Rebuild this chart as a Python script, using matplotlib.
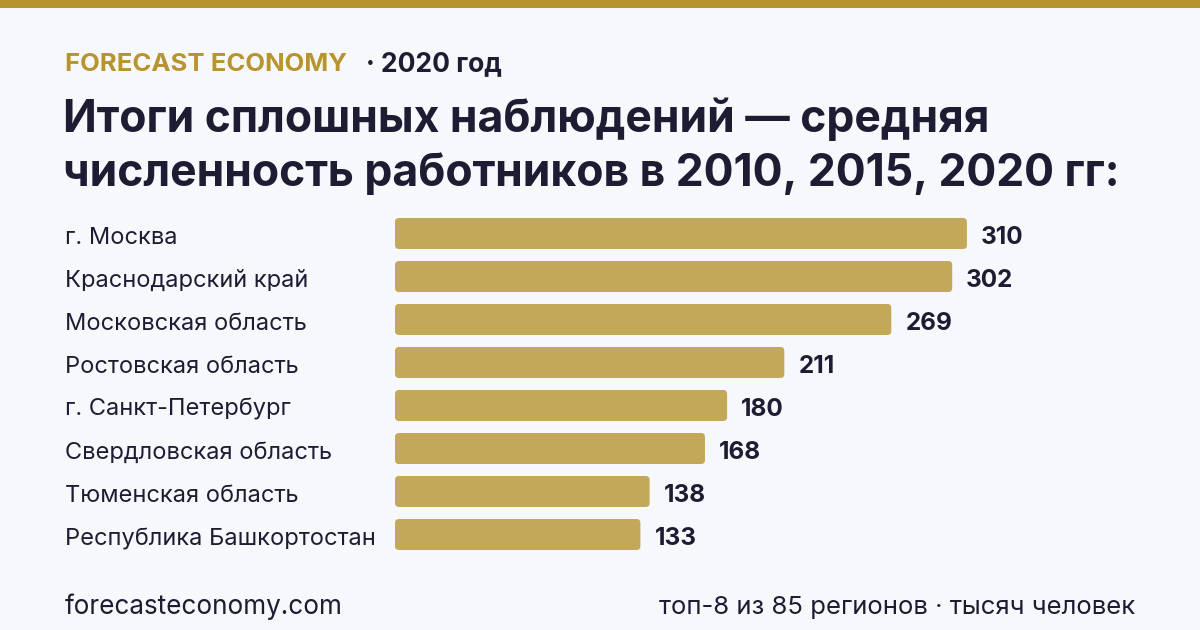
import matplotlib.pyplot as plt
from matplotlib.patches import FancyBboxPatch, Rectangle
import matplotlib.transforms as mtransforms

regions = ['г. Москва', 'Краснодарский край', 'Московская область', 'Ростовская область',
           'г. Санкт-Петербург', 'Свердловская область', 'Тюменская область',
           'Республика Башкортостан']
workers = [310, 302, 269, 211, 180, 168, 138, 133]

bg = '#f7f8fc'
gold = '#b8942e'
bar_col = '#c4a85a'
dark = '#1c1d33'

plt.rcParams['font.family'] = ['Inter', 'DejaVu Sans']

W, H = 1200, 630
fig = plt.figure(figsize=(12, 6.3), dpi=100, facecolor=bg)

def fx(px):
    return px / W

def fy(py):
    return 1 - py / H

# gold strip at top
fig.patches.append(Rectangle((0, fy(8)), 1, 8 / H, transform=fig.transFigure,
                             facecolor=gold, edgecolor='none'))

fig.text(fx(65), fy(71), 'FORECAST ECONOMY', color=gold, fontsize=18.5,
         fontweight='bold', va='baseline')
fig.text(fx(366), fy(71), '· 2020 год', color=dark, fontsize=19,
         fontweight='bold', va='baseline')

fig.text(fx(63), fy(132), 'Итоги сплошных наблюдений — средняя', color=dark,
         fontsize=32, fontweight='bold', va='baseline')
fig.text(fx(63), fy(186), 'численность работников в 2010, 2015, 2020 гг:', color=dark,
         fontsize=32, fontweight='bold', va='baseline')

# bar area: zero at x=395px, 1.845 px per unit, rows 43px apart starting at y=233
px_per_unit = 1.845
pitch = 43
top_c = 233.5
n = len(workers)
ax_left = 395
ax_top = top_c - pitch / 2
ax_h = pitch * n
ax = fig.add_axes([fx(ax_left), fy(ax_top + ax_h), fx(W - ax_left), ax_h / H])
ax.set_xlim(0, (W - ax_left) / px_per_unit)
ax.set_ylim(n - 0.5, -0.5)
ax.axis('off')
ax.patch.set_alpha(0)

bar_h = 31 / pitch
r = 4 / px_per_unit
aspect = (1 / pitch) / (1 / px_per_unit)
base = 10.5 / pitch
for i, v in enumerate(workers):
    ax.add_patch(FancyBboxPatch((0, i - bar_h / 2), v, bar_h,
                                boxstyle=f'round,pad=0,rounding_size={r}',
                                mutation_aspect=aspect, facecolor=bar_col,
                                edgecolor='none'))
    ax.annotate(str(v), (v, i + base), xytext=(14, 0), textcoords='offset pixels',
                va='baseline', ha='left', fontsize=17.5, fontweight='bold', color=dark)

trans = mtransforms.blended_transform_factory(fig.transFigure, ax.transData)
for i, name in enumerate(regions):
    ax.text(fx(65), i + base, name, transform=trans, va='baseline', ha='left',
            fontsize=17, color=dark)

fig.text(fx(65), fy(614), 'forecasteconomy.com', color=dark, fontsize=18.8, va='baseline')
fig.text(fx(1135), fy(614), 'топ-8 из 85 регионов · тысяч человек', color=dark,
         fontsize=18.5, va='baseline', ha='right')

fig.savefig('out.png', dpi=100, facecolor=bg)
